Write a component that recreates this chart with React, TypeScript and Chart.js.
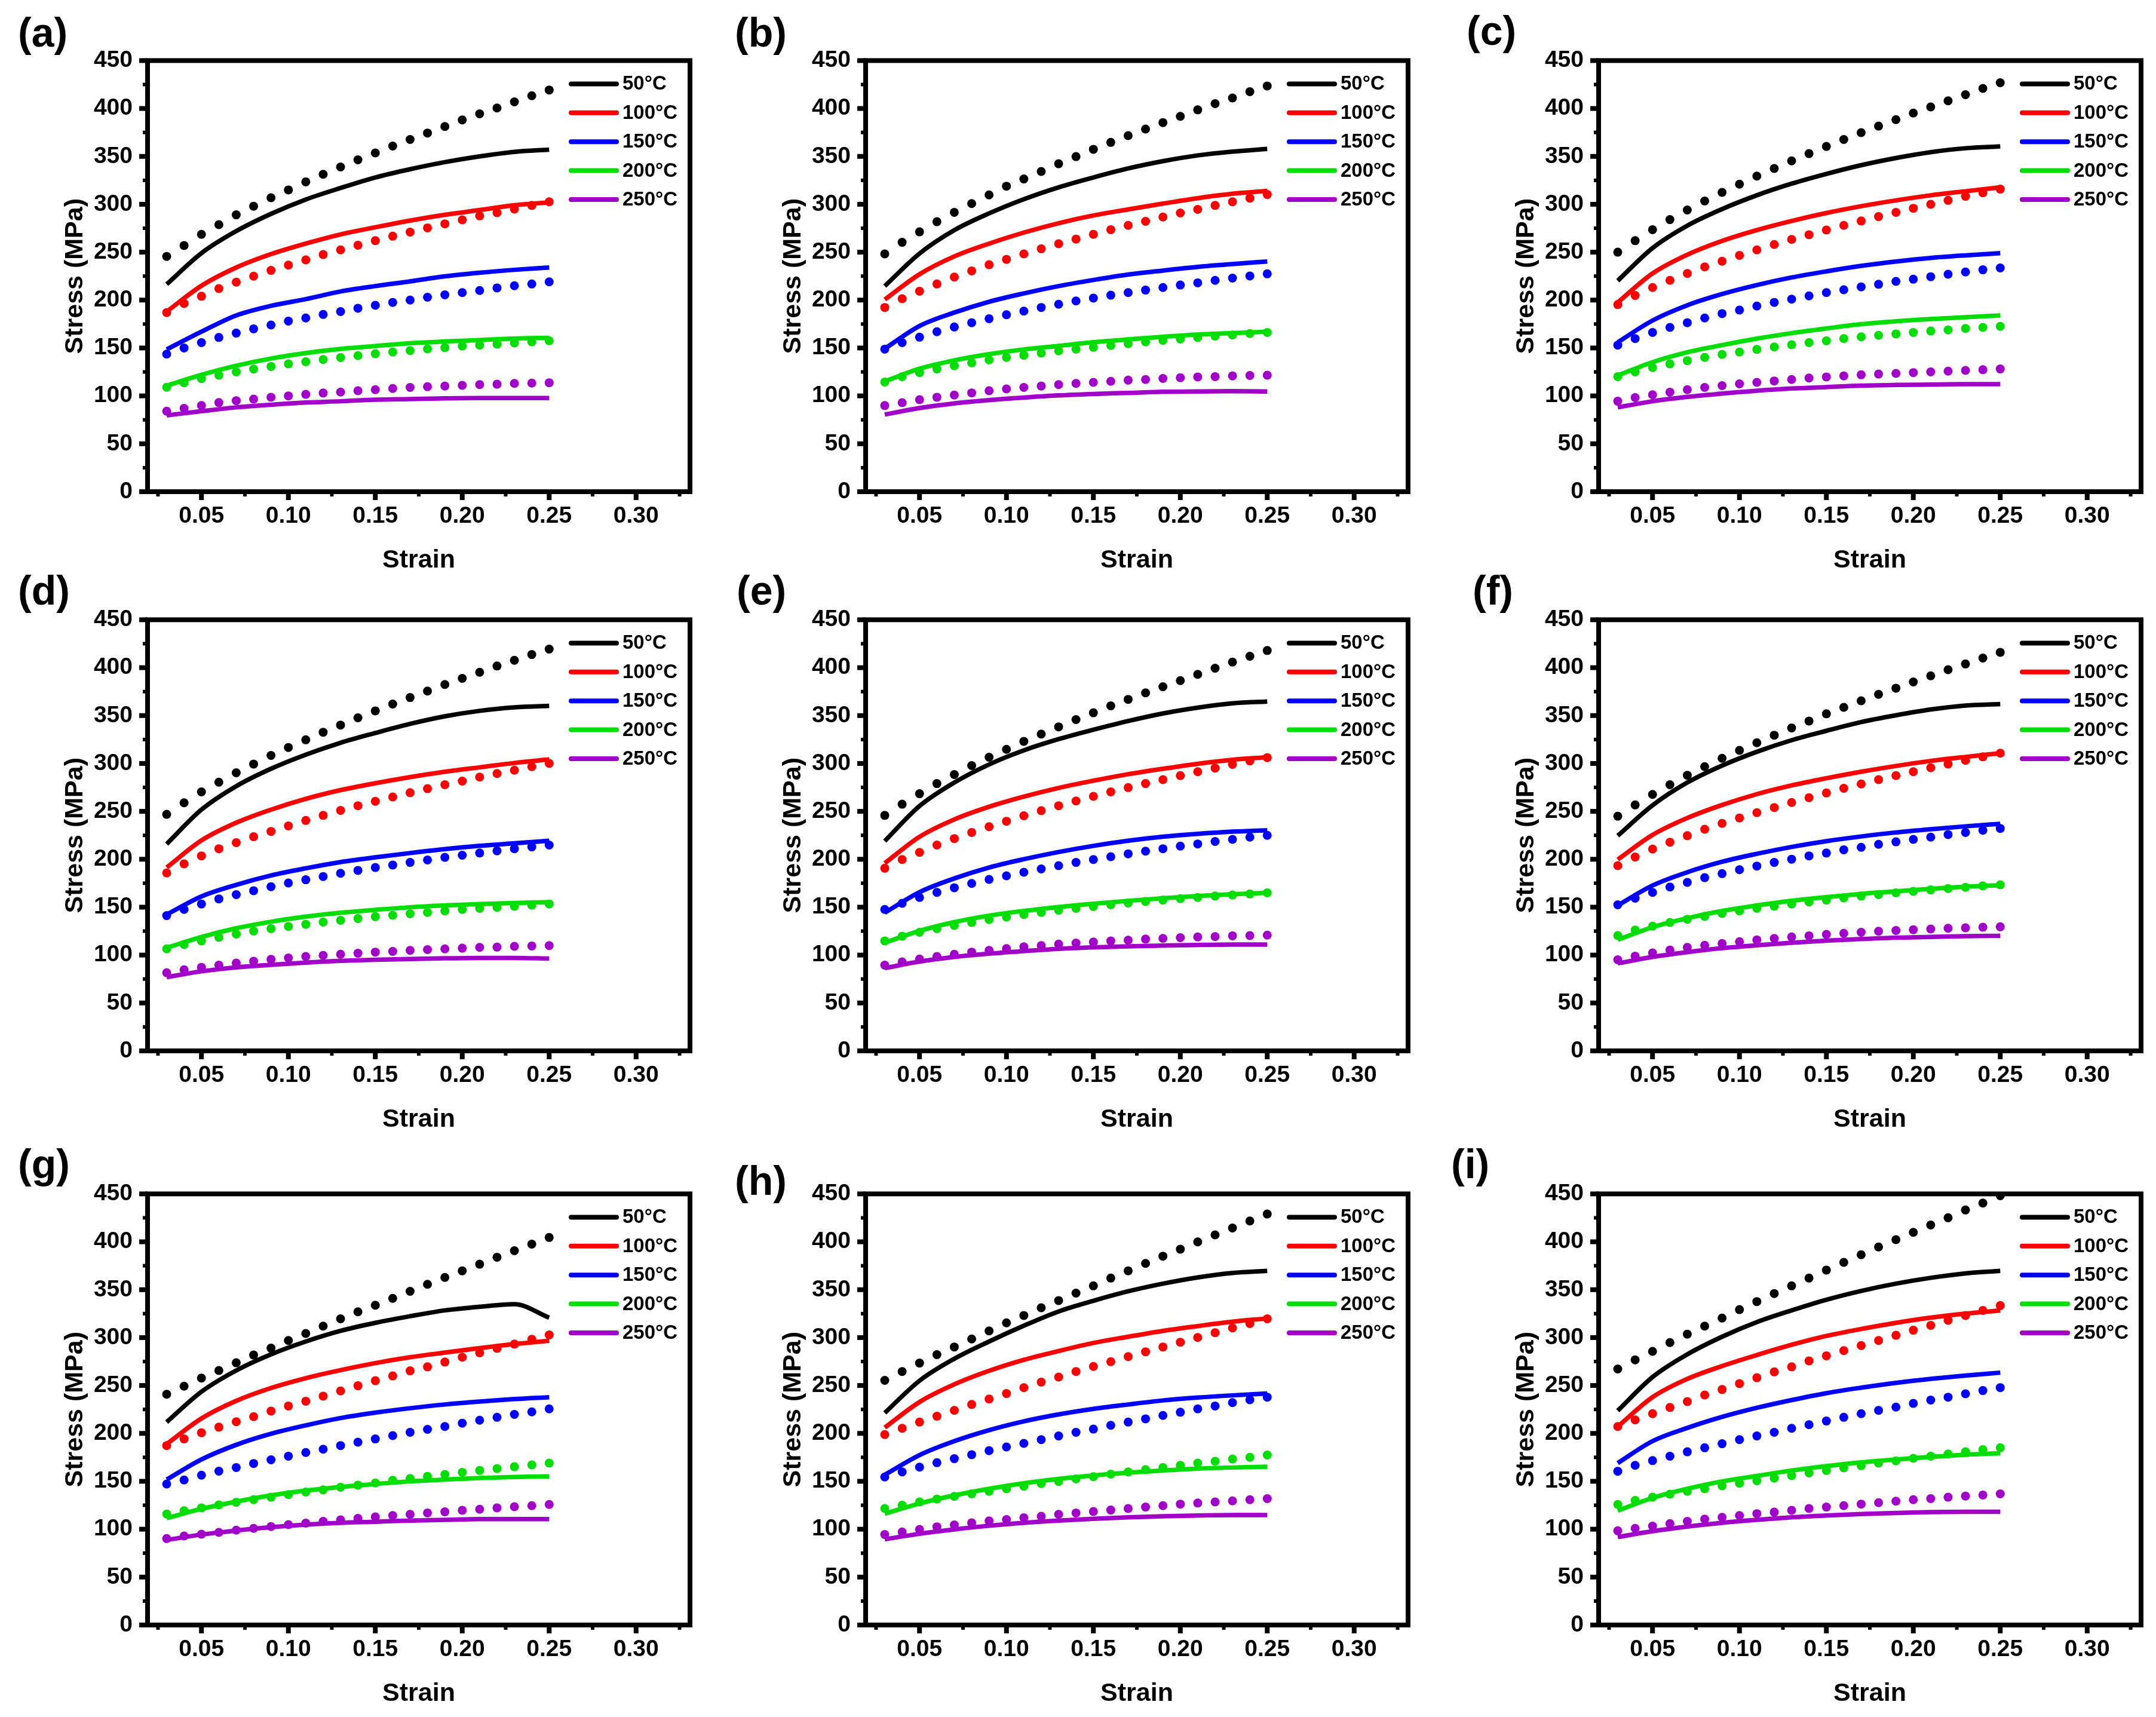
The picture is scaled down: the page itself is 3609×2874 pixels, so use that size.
import React, { useEffect, useRef } from "react";
import { Chart, registerables } from "chart.js";

Chart.register(...registerables);

const FONT = "'Liberation Sans', Arial, Helvetica, sans-serif";

const temps = ["50°C", "100°C", "150°C", "200°C", "250°C"];
const colors = ["#000000", "#ff0000", "#0000ff", "#00dd00", "#a000c8"];

// strain of the measured curves (solid lines)
const expStrain = [0.03, 0.05, 0.07, 0.09, 0.11, 0.13, 0.15, 0.17, 0.19, 0.21, 0.23, 0.25];
// strain of the predicted points (dots)
const predStrain = [
  0.03, 0.04, 0.05, 0.06, 0.07, 0.08, 0.09, 0.1, 0.11, 0.12, 0.13, 0.14, 0.15, 0.16, 0.17, 0.18,
  0.19, 0.2, 0.21, 0.22, 0.23, 0.24, 0.25,
];

const xTicks = [0.05, 0.1, 0.15, 0.2, 0.25, 0.3];
const xMinorTicks = [0.025, 0.075, 0.125, 0.175, 0.225, 0.275, 0.325];
const yTicks = [0, 50, 100, 150, 200, 250, 300, 350, 400, 450];
const yMinorTicks = [25, 75, 125, 175, 225, 275, 325, 375, 425];

const expA = [
  [216.5, 249, 272, 290, 305, 317, 328, 336.6, 344, 350, 354.7, 357],
  [188, 215, 234, 248, 259, 268.6, 276, 283, 289, 294, 299, 302],
  [148.5, 167, 184, 194, 201, 209, 214.6, 219.5, 224.8, 228.6, 231.6, 234],
  [110.7, 122, 131.5, 139, 144.7, 149, 152, 155, 156.8, 158.3, 159.8, 160.6],
  [79.7, 84, 88, 90.7, 93, 94.4, 96, 96.7, 97.5, 97.8, 97.8, 97.8],
];
const predA = [
  [245.6, 257, 268.6, 278.8, 289, 298, 306.8, 315, 323.4, 331.3, 338.9, 346.4, 353.6, 360.8, 367.6, 374.4, 381.2, 388, 394.4, 400.5, 406.9, 413.3, 419.3],
  [187, 196.5, 204, 212, 218.7, 225, 231, 236.5, 242, 247.5, 252.4, 257.3, 262, 266.7, 271, 275.4, 279.6, 283.7, 287.9, 291.3, 295, 298.8, 302.6],
  [143.6, 150, 155.6, 161, 165.5, 170, 174, 178, 181.3, 185, 188, 191.5, 194.6, 197.6, 200, 203, 205.5, 207.8, 210, 212.7, 215, 216.8, 219],
  [109, 113.7, 118, 121.6, 125, 128, 130.7, 133.4, 135.6, 138, 140, 142, 144, 145.8, 147.3, 149, 150.4, 152, 153, 154, 155.3, 156.4, 157.5],
  [84, 87, 90, 93, 95, 96.7, 98.6, 100, 101.6, 103, 104, 105.4, 106.5, 107.7, 108.8, 109.6, 110.3, 111, 111.8, 112.2, 113, 113.3, 113.7],
];

const expB = [
  [214.6, 248.6, 273, 290.5, 305.3, 317.7, 328, 337.4, 345, 351, 355, 357.8],
  [200.6, 227, 245.6, 259, 270.5, 280.3, 288.3, 294.7, 300.7, 306.4, 311, 314],
  [149.2, 173, 187, 198.3, 207, 214.6, 221, 226.7, 230.8, 234.6, 237.6, 240.3],
  [115.2, 128.4, 137.1, 143.6, 148.5, 152.2, 156, 159, 161.7, 164, 165.5, 167],
  [80.5, 87.3, 92.2, 95.6, 98.2, 100.5, 102, 103.1, 104.3, 104.6, 105, 104.6],
];
const predB = [
  [248.2, 260.3, 271.2, 281.8, 291.6, 300.7, 309.8, 318.9, 326.4, 334.3, 342.3, 349.8, 357.4, 364.6, 371.7, 378.5, 385.3, 391.8, 398.6, 405, 411, 417.5, 423.5],
  [192.3, 201.4, 209.3, 216.8, 224, 230.5, 236.9, 242.5, 248.2, 253.5, 258.8, 263.7, 268.6, 273.5, 278, 282.2, 286.7, 290.9, 294.7, 298.8, 302.6, 306.4, 310.2],
  [148.8, 155.6, 161.3, 167, 171.9, 176.4, 180.6, 184.7, 188.5, 192.3, 195.7, 199.1, 202.1, 205.1, 207.8, 210.4, 213.1, 215.7, 218, 220.6, 222.9, 225.2, 227.4],
  [114.5, 120.1, 124.3, 128.1, 131.5, 134.5, 137.5, 140.2, 142.4, 144.7, 147, 148.8, 150.7, 152.6, 154.5, 156.4, 157.9, 159.4, 160.9, 162.4, 163.6, 165.1, 166.2],
  [89.9, 92.9, 96, 98.6, 100.9, 103.1, 105.4, 107.3, 108.8, 110.3, 111.8, 113, 114.1, 115.2, 116.4, 117.1, 118.2, 119, 119.8, 120.1, 120.9, 121.3, 121.6],
];

const expC = [
  [220.2, 254.3, 277.7, 295, 309.4, 321.5, 331.7, 340.8, 348.3, 354.4, 358.5, 360.4],
  [197.6, 227.8, 247.4, 261.8, 273.1, 282.6, 290.9, 298, 304.1, 309.4, 313.6, 317.7],
  [156, 178.7, 194.6, 206.3, 215.7, 223.6, 230, 235.7, 240.3, 244, 246.7, 249],
  [121.3, 135.2, 145.5, 153, 159.8, 165.5, 170.4, 174.9, 177.9, 180.2, 182.1, 184],
  [88, 94.4, 99, 102.4, 105.4, 107.7, 109.2, 110.7, 111.4, 111.8, 112.2, 112.2],
];
const predC = [
  [250, 262, 273.5, 284, 294, 303.4, 312.4, 321, 329.4, 337.4, 345.3, 352.9, 360.4, 367.6, 374.8, 381.6, 388.4, 395.2, 401.6, 408, 414.4, 420.9, 426.9],
  [195.3, 204.8, 213.1, 220.6, 227.8, 234.6, 240.6, 246.7, 252.4, 258, 263.3, 268.2, 273.1, 278, 282.6, 287.1, 291.6, 295.8, 300, 304.1, 308.3, 312, 315.8],
  [153, 159.8, 166.2, 171.5, 176.4, 181.3, 185.9, 189.6, 193.8, 197.6, 201, 204.4, 207.8, 210.8, 213.8, 216.5, 219.5, 221.8, 224.4, 227, 229.3, 231.6, 233.5],
  [120.1, 125, 129.6, 133.4, 136.8, 140.2, 143.2, 145.8, 148.5, 151.1, 153.4, 155.6, 157.5, 159.8, 161.7, 163.2, 164.7, 166.2, 167.7, 168.9, 170.4, 171.5, 172.6],
  [94.4, 98.2, 101.2, 103.9, 106.5, 108.8, 110.7, 112.6, 114.1, 115.6, 117.1, 118.6, 119.8, 120.9, 122, 122.8, 123.5, 124.3, 125, 125.8, 126.6, 127.3, 128.1],
];

const expD = [
  [215.9, 251.8, 276.3, 294.5, 309.2, 321.6, 331.8, 341.3, 349.2, 354.9, 358.6, 360.1],
  [191.4, 219.7, 238.2, 251.8, 263.1, 272.2, 279.4, 285.8, 291.4, 296, 300.5, 304.3],
  [142.3, 161.2, 173.3, 183.1, 190.6, 197.1, 202, 206.5, 210.6, 214, 216.7, 219.3],
  [107.6, 118.9, 128, 134.8, 140.1, 144.2, 147.2, 149.9, 151.8, 153.3, 154.4, 155.2],
  [77, 83, 87.2, 89.8, 92.1, 94, 95.1, 95.9, 96.6, 97, 97, 96.3],
];
const predD = [
  [246.9, 259, 270.3, 280.5, 290.3, 299.4, 308.4, 316.7, 324.7, 332.6, 340.1, 347.7, 354.9, 362, 368.8, 375.6, 382.4, 388.8, 395.2, 401.7, 407.7, 413.7, 419.4],
  [185.7, 195.2, 203.5, 211, 217.4, 223.5, 229.1, 234.8, 240.5, 245.8, 251, 255.9, 260.5, 265, 269.5, 273.7, 277.8, 281.6, 285.8, 289.5, 292.9, 296.7, 300.1],
  [141.2, 147.6, 153.3, 158.6, 163.1, 167.2, 171.4, 175.2, 178.6, 182, 185.4, 188.4, 191.4, 194, 196.7, 199.3, 202, 204.2, 206.5, 208.8, 211, 212.9, 214.8],
  [106.5, 111, 114.8, 118.5, 121.9, 125, 127.6, 129.9, 132.1, 134.4, 136.3, 138.2, 140.1, 141.6, 143.1, 144.6, 146.1, 147.6, 148.7, 149.9, 151, 152.1, 153.3],
  [81.5, 84.6, 87.2, 89.5, 91.7, 93.6, 95.5, 97, 98.5, 99.7, 100.8, 101.9, 103.1, 103.8, 104.9, 105.7, 106.5, 107.2, 108, 108.3, 109.1, 109.5, 109.9],
];

const expE = [
  [219, 255.6, 280.1, 299, 313.7, 325.4, 335.2, 344.3, 352.2, 358.3, 362.8, 364.7],
  [195.9, 223.5, 241.6, 254.8, 265.4, 274.5, 282, 288.8, 294.5, 299.7, 303.9, 306.5],
  [144.2, 165.7, 180, 191.4, 200.1, 207.6, 214, 219.3, 223.5, 226.5, 228.8, 230.3],
  [112.9, 125.3, 134.4, 141.2, 146.1, 150.2, 153.6, 156.6, 159.3, 161.6, 163.5, 165],
  [86.4, 93.2, 98.1, 101.5, 104.2, 106.5, 108, 109.1, 109.9, 110.6, 111, 111],
];
const predE = [
  [245.8, 257.5, 268.4, 279, 288.4, 297.8, 306.5, 314.8, 323.1, 330.7, 338.2, 345.8, 352.9, 360.1, 366.9, 373.7, 380.1, 386.5, 393, 399.4, 405.8, 411.9, 417.9],
  [190.6, 199.7, 207.2, 214.8, 221.6, 228, 234, 239.7, 245.4, 250.7, 255.9, 260.8, 265.7, 270.3, 274.8, 279, 283.1, 287.3, 291.4, 295.2, 299, 302.7, 306.1],
  [147.6, 154, 160.1, 165.4, 170.3, 174.8, 179, 182.7, 186.5, 189.9, 193.3, 196.7, 199.7, 202.7, 205.7, 208.4, 211, 213.7, 216, 218.6, 220.8, 223.1, 225],
  [114.8, 119.7, 123.8, 127.6, 131, 134, 137, 139.7, 142.3, 144.6, 146.8, 148.7, 150.6, 152.5, 154.4, 155.9, 157.4, 158.9, 160.1, 161.6, 162.7, 163.8, 165],
  [89.5, 92.9, 95.9, 98.5, 100.8, 103.1, 104.9, 106.8, 108.7, 109.9, 111.4, 112.5, 113.6, 114.8, 115.5, 116.7, 117.4, 118.2, 118.9, 119.3, 120.1, 120.4, 120.8],
];

const expF = [
  [224.6, 256.3, 280.1, 297.8, 312.2, 324.3, 334.1, 343.2, 350.3, 356.4, 360.5, 362],
  [199.7, 225.4, 243.1, 256.7, 268, 277.1, 284.6, 291.4, 297.4, 302.7, 306.9, 310.7],
  [151.8, 172.6, 186.5, 197.4, 205.7, 212.9, 218.9, 223.8, 228, 231.4, 234.4, 237],
  [115.9, 129.1, 138.5, 146.1, 151.8, 156.7, 160.5, 163.9, 166.5, 169.1, 171.4, 172.9],
  [91.3, 98.1, 103.1, 107.2, 110.2, 112.9, 115.1, 116.7, 118.2, 118.9, 119.7, 120.1],
];
const predF = [
  [245, 256.7, 267.7, 277.8, 287.7, 296.7, 305.4, 313.7, 321.6, 329.5, 337.1, 344.3, 351.8, 358.6, 365.4, 372.2, 378.6, 385.1, 391.5, 397.9, 403.9, 410, 416],
  [193.3, 202.3, 210.6, 217.8, 224.6, 231.4, 237.4, 243.1, 248.7, 254, 259.3, 264.3, 269.2, 274.1, 278.6, 283.1, 287.3, 291.4, 295.6, 299.4, 303.2, 306.9, 310.7],
  [152.5, 159.3, 165.4, 171, 175.9, 180.8, 185, 189.1, 192.9, 196.7, 200.1, 203.5, 206.5, 209.9, 212.5, 215.6, 218.2, 220.8, 223.1, 225.8, 228, 230.3, 232.2],
  [120.4, 126.1, 130.2, 134, 137.4, 140.4, 143.5, 146.1, 148.7, 151, 153.3, 155.5, 157.4, 159.7, 161.6, 163.1, 165, 166.5, 168, 169.5, 170.7, 172.2, 173.3],
  [95.1, 98.9, 102.3, 105.3, 108, 110.2, 112.1, 114, 115.9, 117.4, 118.9, 120.1, 121.6, 122.7, 123.8, 124.9, 125.7, 126.5, 127.2, 128, 128.4, 129.1, 129.5],
];

const expG = [
  [211.8, 243.5, 265.7, 282.5, 295.9, 307, 315.4, 322.3, 328.4, 332.2, 334.9, 320.8],
  [188.9, 215.6, 234, 247.4, 257.7, 266.1, 273.4, 279.5, 284.4, 289, 293.2, 296.7],
  [151.8, 172.8, 188.1, 199.6, 208.4, 216, 221.7, 226.3, 230.2, 233.2, 235.9, 237.8],
  [111.6, 121.2, 128.8, 135.3, 140.3, 144.1, 147.2, 149.9, 151.8, 153.4, 154.5, 155.2],
  [88.7, 94.4, 98.6, 102.1, 104.8, 106.7, 107.8, 109, 109.7, 110.5, 110.5, 110.5],
];
const predG = [
  [240.9, 249.3, 257.7, 265.7, 273.7, 281.8, 289, 297, 304.3, 312, 319.6, 326.9, 333.8, 341, 348.3, 355.6, 362.8, 369.7, 376.6, 383.9, 390.7, 397.6, 404.5],
  [187.3, 194.2, 200.7, 206.5, 212.2, 217.5, 223.3, 228.6, 233.6, 238.9, 244.3, 249.7, 255, 260, 265.3, 269.5, 274.5, 279.5, 284.1, 288.7, 293.2, 298.2, 302.8],
  [147.2, 151.4, 156.4, 160.6, 164.4, 168.6, 172.4, 176.2, 180.1, 183.5, 187.3, 190.8, 194.2, 197.7, 201.1, 204.2, 207.2, 210.7, 213.7, 216.8, 219.8, 222.5, 225.6],
  [115.8, 119.3, 122.3, 125.4, 128.1, 130.8, 133.4, 136.1, 138.8, 141.1, 143.8, 146, 148.3, 151, 152.9, 155.2, 157.1, 159.4, 161.3, 163.3, 165.2, 167.1, 169],
  [90.2, 92.9, 94.8, 96.7, 99, 100.9, 102.8, 104.8, 106.3, 108.2, 109.7, 111.3, 112.8, 114.3, 115.5, 117, 118.1, 119.7, 120.8, 122.3, 123.5, 124.6, 125.8],
];

const expH = [
  [221.4, 255, 277.9, 295.9, 312.4, 327.3, 338.4, 348.3, 356.3, 362.8, 367.5, 369.7],
  [206.1, 232.8, 251.2, 265.3, 276.8, 286, 294.4, 300.9, 307, 312, 316.6, 320],
  [156.8, 177.4, 191.9, 203.4, 212.6, 219.8, 225.6, 230.2, 234.4, 237.4, 239.7, 241.6],
  [116.2, 126.9, 135.3, 142.2, 148, 152.5, 156, 159, 161.3, 163.3, 164.4, 165.2],
  [89.5, 95.2, 99.8, 103.6, 106.7, 109, 110.9, 112.4, 113.5, 114.3, 114.7, 114.7],
];
const predH = [
  [255.4, 264.6, 273.4, 282.2, 290.2, 298.6, 307, 315.4, 323.1, 331.1, 338.7, 346.4, 354, 362.1, 369.7, 377.4, 385, 392.3, 399.9, 407.2, 414.4, 421.7, 429],
  [198.8, 205.3, 211.8, 217.9, 224, 230.2, 235.9, 241.6, 247.7, 253.5, 258.8, 264.6, 269.9, 274.9, 280.2, 285.2, 290.2, 295.2, 300.1, 305.1, 310.1, 314.6, 319.6],
  [154.5, 159.8, 164.8, 169.4, 173.6, 177.8, 182, 185.8, 189.6, 193.5, 197.3, 201.1, 204.5, 208.4, 211.8, 215.2, 218.7, 222.1, 225.6, 228.6, 232.1, 235.1, 237.8],
  [121.6, 125, 128.5, 131.5, 134.2, 136.9, 139.5, 142.2, 144.9, 147.6, 149.9, 152.5, 154.8, 157.5, 159.8, 162.1, 164.4, 166.7, 169, 170.9, 173.2, 175.1, 177.4],
  [94.4, 97.1, 99.8, 102.5, 104.4, 106.7, 108.6, 110.1, 112, 113.5, 115.5, 117, 118.5, 120, 121.6, 123.1, 124.6, 126.2, 127.3, 128.5, 129.6, 130.8, 131.9],
];

const expI = [
  [223.7, 258.8, 282.5, 300.9, 316.2, 328.4, 339.5, 348.7, 356.3, 362.4, 367, 369.7],
  [207.2, 237.8, 256.9, 270.3, 281.8, 292.5, 301.7, 309, 315.4, 320.8, 325, 328.4],
  [169, 191.9, 205.7, 217.2, 226.7, 234.8, 242, 247.7, 252.7, 256.9, 260.4, 263.4],
  [119.3, 132.7, 142.2, 149.9, 155.6, 161.3, 165.9, 169.8, 172.8, 175.5, 177.8, 179.3],
  [91.8, 97.9, 102.8, 106.7, 109.7, 112.4, 114.3, 115.8, 117, 117.8, 118.1, 118.1],
];
const predI = [
  [267.2, 276.8, 285.6, 294.8, 303.6, 312, 320.4, 329.2, 337.6, 346, 354, 362.1, 370.5, 378.5, 386.5, 394.6, 402.2, 409.9, 417.5, 425.1, 433.2, 440.4, 448.1],
  [207.2, 214.1, 220.6, 227.1, 233.2, 240.1, 245.8, 252, 258.1, 264.2, 269.5, 275.7, 281, 286.4, 291.7, 297, 302.4, 307.7, 312.7, 318.1, 323.1, 328.4, 333.4],
  [160.5, 166.7, 171.6, 176.2, 180.8, 185, 189.2, 193.5, 197.3, 201.1, 205.3, 209.1, 212.9, 216.8, 220.6, 224, 227.5, 231.3, 234.8, 237.8, 241.3, 244.7, 247.8],
  [125.8, 130, 133.4, 136.5, 139.5, 142.2, 145.3, 148, 150.6, 153.3, 156, 158.7, 161.3, 164, 166.3, 169, 171.3, 174, 176.2, 178.5, 180.8, 183.1, 185],
  [98.3, 100.9, 103.2, 105.9, 108.2, 110.5, 112.4, 114.3, 116.2, 117.8, 119.7, 121.6, 123.1, 124.6, 126.2, 127.7, 129.2, 130.8, 131.9, 133.4, 134.6, 135.7, 136.9],
];

const panels = [
  { label: "(a)", exp: expA, pred: predA },
  { label: "(b)", exp: expB, pred: predB },
  { label: "(c)", exp: expC, pred: predC },
  { label: "(d)", exp: expD, pred: predD },
  { label: "(e)", exp: expE, pred: predE },
  { label: "(f)", exp: expF, pred: predF },
  { label: "(g)", exp: expG, pred: predG },
  { label: "(h)", exp: expH, pred: predH },
  { label: "(i)", exp: expI, pred: predI },
];

// layout (page px)
const colLeft = [247, 1449, 2676];
const rowTop = [93, 1029, 1990];
const labelPos = [
  [33, 28], [1233, 28], [2458, 25],
  [33, 962], [1236, 962], [2468, 962],
  [33, 1922], [1233, 1950], [2432, 1922],
];
const PLOT_W = 908;
const PLOT_H = 730;
const PAD_L = 230;
const PAD_T = 40;
const PAD_R = 20;
const PAD_B = 150;

const framePlugin = {
  id: "frameLegend",
  afterDraw(chart: any) {
    const { ctx, chartArea: a, scales } = chart;
    const xs = scales.x;
    const ys = scales.y;
    ctx.save();
    ctx.strokeStyle = "#000";
    ctx.lineCap = "butt";

    const seg = (x1: number, y1: number, x2: number, y2: number, w: number) => {
      ctx.lineWidth = w;
      ctx.beginPath();
      ctx.moveTo(x1, y1);
      ctx.lineTo(x2, y2);
      ctx.stroke();
    };

    // ticks, outward
    xs.ticks.forEach((t: any) => {
      const px = xs.getPixelForValue(t.value);
      seg(px, a.bottom, px, a.bottom + 14, 8);
    });
    xMinorTicks.forEach((v) => {
      const px = xs.getPixelForValue(v);
      seg(px, a.bottom, px, a.bottom + 8, 6);
    });
    ys.ticks.forEach((t: any) => {
      const py = ys.getPixelForValue(t.value);
      seg(a.left, py, a.left - 14, py, 8);
    });
    yMinorTicks.forEach((v) => {
      const py = ys.getPixelForValue(v);
      seg(a.left, py, a.left - 8, py, 6);
    });

    // frame
    ctx.lineWidth = 8;
    ctx.strokeRect(a.left, a.top, a.right - a.left, a.bottom - a.top);

    // legend
    ctx.font = `bold 33px ${FONT}`;
    ctx.textBaseline = "middle";
    ctx.textAlign = "left";
    ctx.lineCap = "round";
    temps.forEach((t, i) => {
      const y = a.top + 39 + i * 48.4;
      ctx.strokeStyle = colors[i];
      ctx.lineWidth = 8;
      ctx.beginPath();
      ctx.moveTo(a.left + 709, y);
      ctx.lineTo(a.left + 785, y);
      ctx.stroke();
      ctx.fillStyle = "#000";
      ctx.fillText(t, a.left + 795, y + 1);
    });
    ctx.restore();
  },
};

type PanelProps = {
  label: string;
  exp: number[][];
  pred: number[][];
  left: number;
  top: number;
  labelX: number;
  labelY: number;
};

const Panel: React.FC<PanelProps> = ({ label, exp, pred, left, top, labelX, labelY }) => {
  const chartRef = useRef<HTMLCanvasElement | null>(null);

  useEffect(() => {
    if (!chartRef.current) return;

    const datasets: any[] = [];
    temps.forEach((t, i) => {
      datasets.push({
        label: t,
        data: expStrain.map((x, j) => ({ x, y: exp[i][j] })),
        borderColor: colors[i],
        backgroundColor: colors[i],
        borderWidth: 7.5,
        pointRadius: 0,
        cubicInterpolationMode: "monotone",
        fill: false,
        order: 1,
      });
      datasets.push({
        label: t + " predicted",
        data: predStrain.map((x, j) => ({ x, y: pred[i][j] })),
        showLine: false,
        borderColor: colors[i],
        backgroundColor: colors[i],
        pointBackgroundColor: colors[i],
        pointBorderWidth: 0,
        pointRadius: 7.5,
        order: 0,
      });
    });

    const tickFont = { family: FONT, size: 39, weight: "bold" as const };
    const titleFont = { family: FONT, size: 43, weight: "bold" as const };

    const chart = new Chart(chartRef.current, {
      type: "line",
      data: { datasets },
      options: {
        responsive: false,
        animation: false,
        events: [],
        layout: { padding: { left: 0, top: PAD_T, right: PAD_R, bottom: 0 } },
        plugins: {
          legend: { display: false },
          tooltip: { enabled: false },
        },
        scales: {
          x: {
            type: "linear",
            min: 0.019,
            max: 0.331,
            afterBuildTicks: (s: any) => {
              s.ticks = xTicks.map((v) => ({ value: v }));
            },
            afterFit: (s: any) => {
              s.height = PAD_B;
            },
            grid: { display: false, drawTicks: false },
            border: { display: false },
            ticks: {
              padding: 18,
              color: "#000",
              font: tickFont,
              maxRotation: 0,
              autoSkip: false,
              callback: (v: any) => Number(v).toFixed(2),
            },
            title: {
              display: true,
              text: "Strain",
              color: "#000",
              font: titleFont,
              padding: { top: 0, bottom: 9 },
            },
          },
          y: {
            type: "linear",
            min: 0,
            max: 450,
            afterBuildTicks: (s: any) => {
              s.ticks = yTicks.map((v) => ({ value: v }));
            },
            afterFit: (s: any) => {
              s.width = PAD_L;
            },
            grid: { display: false, drawTicks: false },
            border: { display: false },
            ticks: {
              padding: 25,
              color: "#000",
              font: tickFont,
              autoSkip: false,
            },
            title: {
              display: true,
              text: "Stress (MPa)",
              color: "#000",
              font: titleFont,
              padding: { top: 83, bottom: 0 },
            },
          },
        },
      },
      plugins: [framePlugin],
    } as any);

    return () => {
      chart.destroy();
    };
  }, []);

  return (
    <>
      <canvas
        ref={chartRef}
        width={PAD_L + PLOT_W + PAD_R}
        height={PAD_T + PLOT_H + PAD_B}
        style={{ position: "absolute", left: left - PAD_L, top: top - PAD_T }}
      />
      <div
        style={{
          position: "absolute",
          left: labelX - 3,
          top: labelY - 8,
          fontFamily: FONT,
          fontWeight: "bold",
          fontSize: 68,
          lineHeight: 1,
          color: "#000",
          whiteSpace: "nowrap",
        }}
      >
        {label}
      </div>
    </>
  );
};

const App: React.FC = () => {
  return (
    <div
      style={{
        position: "absolute",
        left: 0,
        top: 0,
        width: 3609,
        height: 2874,
        overflow: "hidden",
        background: "#ffffff",
      }}
    >
      {panels.map((p, k) => (
        <Panel
          key={p.label}
          label={p.label}
          exp={p.exp}
          pred={p.pred}
          left={colLeft[k % 3]}
          top={rowTop[Math.floor(k / 3)]}
          labelX={labelPos[k][0]}
          labelY={labelPos[k][1]}
        />
      ))}
    </div>
  );
};

export default App;
